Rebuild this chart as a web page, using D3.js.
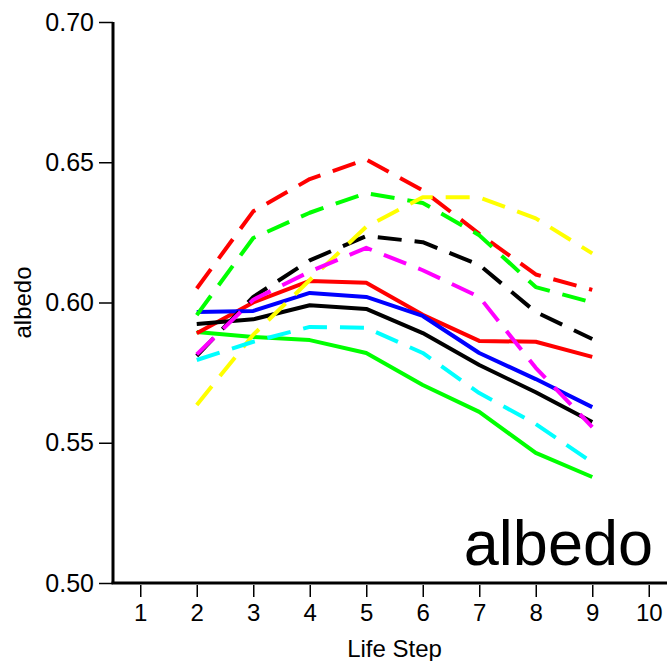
<!DOCTYPE html>
<html>
<head>
<meta charset="utf-8">
<script src="https://cdn.jsdelivr.net/npm/d3@7"></script>
<style>
  body { margin: 0; background: #fff; }
  text { font-family: "Liberation Sans", Arial, sans-serif; }
</style>
</head>
<body>
<div id="chart"></div>
<script>
// Data
const steps = [2, 3, 4, 5, 6, 7, 8, 9];
const xTicks = [1, 2, 3, 4, 5, 6, 7, 8, 9, 10];
const yTicks = [0.50, 0.55, 0.60, 0.65, 0.70];

const greenSolid   = [0.5895, 0.5877, 0.5866, 0.5820, 0.5706, 0.5610, 0.5464, 0.5378];
const redSolid     = [0.5890, 0.6000, 0.6077, 0.6070, 0.5956, 0.5863, 0.5860, 0.5806];
const blueSolid    = [0.5966, 0.5970, 0.6034, 0.6020, 0.5952, 0.5820, 0.5727, 0.5627];
const blackSolid   = [0.5923, 0.5940, 0.5990, 0.5977, 0.5891, 0.5777, 0.5680, 0.5574];
const blackDashed  = [0.5810, 0.6020, 0.6150, 0.6237, 0.6215, 0.6134, 0.5966, 0.5870];
const redDashed    = [0.6050, 0.6325, 0.6440, 0.6510, 0.6400, 0.6245, 0.6100, 0.6045];
const greenDashed  = [0.5955, 0.6230, 0.6320, 0.6390, 0.6355, 0.6240, 0.6055, 0.6000];
const yellowDashed = [0.5635, 0.5885, 0.6080, 0.6270, 0.6375, 0.6375, 0.6300, 0.6175];
const magentaDashed= [0.5815, 0.6010, 0.6110, 0.6195, 0.6115, 0.6020, 0.5767, 0.5556];
const cyanDashed   = [0.5795, 0.5860, 0.5913, 0.5910, 0.5820, 0.5677, 0.5567, 0.5430];

const series = [
  { values: greenSolid,    color: "#00ff00", dashed: false },
  { values: redSolid,      color: "#ff0000", dashed: false },
  { values: blueSolid,     color: "#0000ff", dashed: false },
  { values: blackSolid,    color: "#000000", dashed: false },
  { values: blackDashed,   color: "#000000", dashed: true },
  { values: redDashed,     color: "#ff0000", dashed: true },
  { values: greenDashed,   color: "#00ff00", dashed: true },
  { values: yellowDashed,  color: "#ffff00", dashed: true },
  { values: magentaDashed, color: "#ff00ff", dashed: true },
  { values: cyanDashed,    color: "#00ffff", dashed: true }
];

const width = 667;
const height = 661;
const margin = { top: 22, right: -10, bottom: 78, left: 113 };

const x = d3.scaleLinear()
  .domain([0.5, 10.5])
  .range([margin.left - 1, width - margin.right]);

const y = d3.scaleLinear()
  .domain([0.5, 0.7])
  .range([height - margin.bottom, margin.top]);

const svg = d3.select("#chart")
  .append("svg")
  .attr("width", width)
  .attr("height", height);

// Lines
const line = d3.line()
  .x((d, i) => x(steps[i]))
  .y(d => y(d));

svg.append("g")
  .selectAll("path")
  .data(series)
  .enter()
  .append("path")
  .attr("d", d => line(d.values))
  .attr("fill", "none")
  .attr("stroke", d => d.color)
  .attr("stroke-width", 4)
  .attr("stroke-linejoin", "round")
  .attr("stroke-dasharray", d => d.dashed ? "24,13" : null);

// Y axis
const yAxis = svg.append("g")
  .attr("transform", `translate(${margin.left},0)`)
  .call(d3.axisLeft(y).tickValues(yTicks).tickFormat(d3.format(".2f")).tickSize(14).tickPadding(5));
yAxis.select(".domain").attr("stroke-width", 3).attr("d", `M0,${y(0.7)}V${y(0.5)}`);
yAxis.selectAll(".tick line").attr("stroke-width", 1.5);
yAxis.selectAll("text").style("font-size", "25px").attr("fill", "#000");

// X axis
const xAxis = svg.append("g")
  .attr("transform", `translate(0,${y(0.5)})`)
  .call(d3.axisBottom(x).tickValues(xTicks).tickSize(14).tickPadding(7));
xAxis.select(".domain").attr("stroke-width", 3).attr("d", `M${margin.left - 1.5},0H${width}`);
xAxis.selectAll(".tick line").attr("stroke-width", 1.5).attr("y1", 2);
xAxis.selectAll("text").style("font-size", "24px").attr("fill", "#000");

// Axis titles
svg.append("text")
  .attr("x", x(5.5))
  .attr("y", 657)
  .attr("text-anchor", "middle")
  .style("font-size", "24px")
  .text("Life Step");

svg.append("text")
  .attr("transform", `translate(31,${y(0.6)}) rotate(-90)`)
  .attr("text-anchor", "middle")
  .style("font-size", "24px")
  .text("albedo");

// Big label
svg.append("text")
  .attr("x", 653)
  .attr("y", 565)
  .attr("text-anchor", "end")
  .style("font-size", "63px")
  .text("albedo");
</script>
</body>
</html>
